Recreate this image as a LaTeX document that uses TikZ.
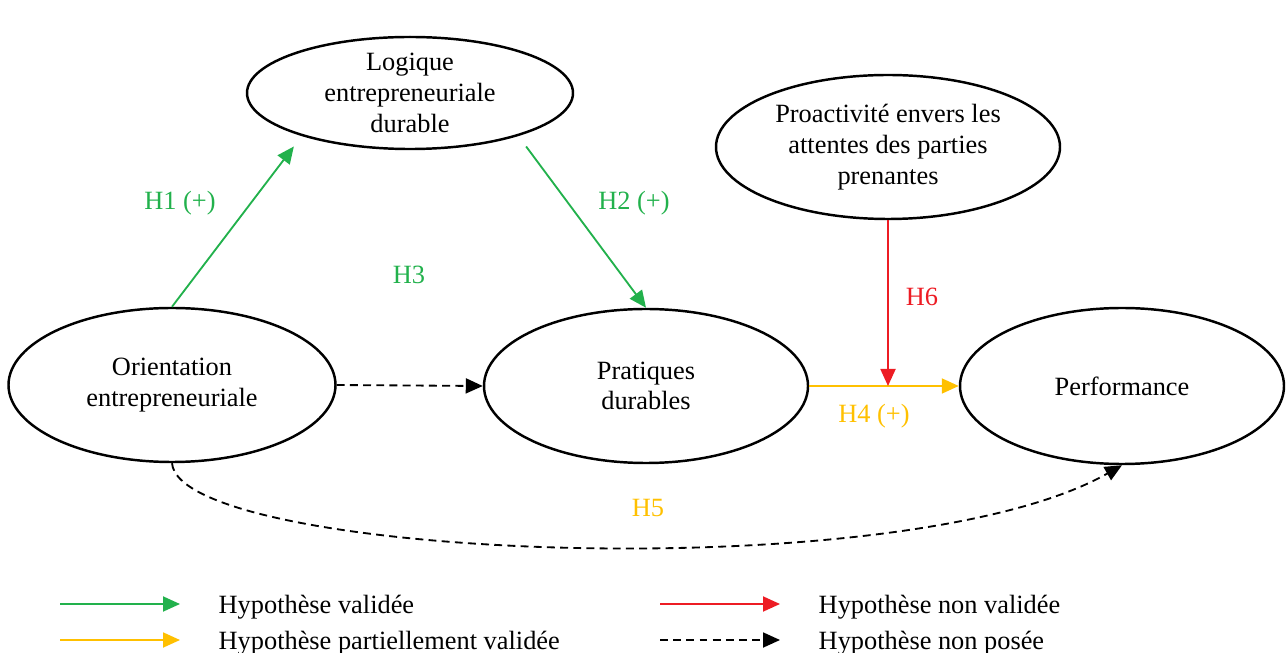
\documentclass[tikz,border=0pt]{standalone}
\usepackage{fontspec}
\setmainfont{Liberation Serif}
\usepackage{xcolor}
\usepackage{tikz}
\usetikzlibrary{shapes.geometric, arrows.meta, positioning, calc}

\definecolor{hypgreen}{RGB}{34,177,76}
\definecolor{hypyellow}{RGB}{255,192,0}
\definecolor{hypred}{RGB}{237,28,36}

\begin{document}
\begin{tikzpicture}[
  concept/.style={ellipse, draw, line width=1.4pt, inner sep=0pt, align=center, font=\fontsize{15}{17.5}\selectfont},
  label/.style={font=\fontsize{15}{17.5}\selectfont},
  legendtext/.style={anchor=base west, font=\fontsize{15}{17.5}\selectfont},
  arrow/.style={line width=1.05pt, -{Triangle[length=0.34cm, width=0.3cm]}},
  valid/.style={arrow, hypgreen},
  partial/.style={arrow, hypyellow},
  invalid/.style={arrow, hypred},
  notposed/.style={arrow, black, dash pattern=on 4.5pt off 3pt}
]
  \useasboundingbox (0,0) rectangle (25.72,-13.06);

  % concepts
  \node[concept, minimum width=6.52cm, minimum height=2.12cm] (logique) at (8.2,-1.86) {Logique\\entrepreneuriale\\durable};
  \node[concept, minimum width=6.88cm, minimum height=2.88cm] (proact) at (17.76,-2.94) {Proactivité envers les\\attentes des parties\\prenantes};
  \node[concept, minimum width=6.54cm, minimum height=3.08cm] (orient) at (3.44,-7.7) {Orientation\\entrepreneuriale};
  \node[concept, minimum width=6.48cm, minimum height=3.08cm] (pratiques) at (12.92,-7.72) {Pratiques\\durables};
  \node[concept, minimum width=6.48cm, minimum height=3.12cm] (perf) at (22.44,-7.72) {Performance};

  % hypotheses
  \coordinate (meet) at (proact.south |- perf.west);
  \draw[valid] (orient.north) -- ([yshift=-0.26cm]logique.south west);
  \draw[valid] ([yshift=-0.26cm]logique.south east) -- (pratiques.north);
  \draw[notposed] (orient.east) -- (pratiques.west);
  \draw[partial] (pratiques.east) -- (perf.west);
  \draw[invalid] (proact.south) -- (meet);
  \draw[notposed] (orient.south) .. controls +(0.16,-1.9) and +(-4.4,-2.5) .. (perf.south);

  \node[label, hypgreen] (h1) at (3.6,-4.06) {H1 (+)};
  \node[label, hypgreen] (h2) at (12.68,-4.06) {H2 (+)};
  \node[label, hypgreen] (h3) at (8.18,-5.5) {H3};
  \node[label, hypred] (h6) at (18.44,-5.94) {H6};
  \node[label, hypyellow] (h4) at (17.48,-8.32) {H4 (+)};
  \node[label, hypyellow] (h5) at (12.96,-10.16) {H5};

  % legend
  \coordinate (lg1a) at (1.2,-12.08);  \coordinate (lg1b) at (3.6,-12.08);
  \coordinate (lg2a) at (13.2,-12.08); \coordinate (lg2b) at (15.6,-12.08);
  \coordinate (lg3a) at (1.2,-12.8);   \coordinate (lg3b) at (3.6,-12.8);
  \coordinate (lg4a) at (13.2,-12.8);  \coordinate (lg4b) at (15.6,-12.8);
  \draw[valid] (lg1a) -- (lg1b);
  \draw[invalid] (lg2a) -- (lg2b);
  \draw[partial] (lg3a) -- (lg3b);
  \draw[notposed] (lg4a) -- (lg4b);
  \node[legendtext] (lgvalid) at (4.25,-12.26) {Hypothèse validée};
  \node[legendtext] (lginvalid) at (16.25,-12.26) {Hypothèse non validée};
  \node[legendtext] (lgpartial) at (4.25,-12.98) {Hypothèse partiellement validée};
  \node[legendtext] (lgnotposed) at (16.25,-12.98) {Hypothèse non posée};
\end{tikzpicture}
\end{document}
